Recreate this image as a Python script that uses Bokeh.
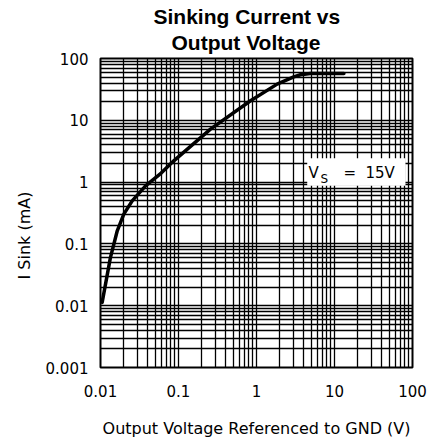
import numpy as np
from bokeh.plotting import figure
from bokeh.models import FixedTicker, Title, Label, BoxAnnotation
from bokeh.embed import file_html
from bokeh.resources import INLINE

# ---- data ----
v_out = [0.0105, 0.0134, 0.0164, 0.0199, 0.0255, 0.0378, 0.06, 0.087,
         0.257, 0.838, 1.84, 3.0, 3.66, 4.9, 13.2]
i_sink = [0.0113, 0.06, 0.163, 0.303, 0.498, 0.87, 1.4, 2.21,
          7.2, 20.7, 38.5, 50.5, 54.5, 57.0, 57.0]

x_ticks = [0.01, 0.1, 1, 10, 100]
x_tick_labels = ["0.01", "0.1", "1", "10", "100"]
y_ticks = [0.001, 0.01, 0.1, 1, 10, 100]
y_tick_labels = ["0.001", "0.01", "0.1", "1", "10", "100"]

title_lines = ["Sinking Current vs", "Output Voltage"]
x_label = "Output Voltage Referenced to GND (V)"
y_label = "I Sink (mA)"

x_minor = [m * t for t in x_ticks[:-1] for m in range(2, 10)]
y_minor = [m * t for t in y_ticks[:-1] for m in range(2, 10)]

p = figure(width=428, height=442, x_axis_type="log", y_axis_type="log",
           x_range=(0.01, 100), y_range=(0.001, 100),
           output_backend="svg", toolbar_location=None, title=None,
           min_border_left=100, min_border_right=16,
           min_border_top=58, min_border_bottom=75)
p.background_fill_color = "white"
p.border_fill_color = "white"
p.outline_line_color = "black"
p.outline_line_width = 2

p.xaxis.ticker = FixedTicker(ticks=x_ticks, minor_ticks=x_minor)
p.yaxis.ticker = FixedTicker(ticks=y_ticks, minor_ticks=y_minor)
p.xaxis.major_label_overrides = {t: l for t, l in zip(x_ticks, x_tick_labels)}
p.yaxis.major_label_overrides = {t: l for t, l in zip(y_ticks, y_tick_labels)}

for g in (p.xgrid, p.ygrid):
    g.grid_line_color = "black"
    g.grid_line_width = 1.3
    g.grid_line_alpha = 1
    g.minor_grid_line_color = "black"
    g.minor_grid_line_width = 1.3
    g.minor_grid_line_alpha = 1

p.axis.axis_line_color = None
p.axis.major_tick_line_color = None
p.axis.minor_tick_line_color = None
p.axis.major_tick_out = 0
p.axis.major_tick_in = 0
p.axis.major_label_text_font = "DejaVu Sans"
p.axis.major_label_text_font_size = "15px"
p.axis.major_label_text_color = "black"
p.yaxis.major_label_standoff = 8
p.xaxis.major_label_standoff = 13

p.xaxis.axis_label = x_label
p.xaxis.axis_label_text_font = "DejaVu Sans"
p.xaxis.axis_label_text_font_size = "16px"
p.xaxis.axis_label_text_font_style = "normal"
p.xaxis.axis_label_text_color = "black"
p.xaxis.axis_label_standoff = 19

p.add_layout(Title(text=y_label, align="left", offset=88, standoff=14,
                   vertical_align="top",
                   text_font="DejaVu Sans", text_font_size="16px",
                   text_font_style="normal", text_color="black"), "left")

p.add_layout(Title(text=title_lines[1], align="left", offset=71, standoff=6,
                   vertical_align="top",
                   text_font="Liberation Sans", text_font_size="21px",
                   text_font_style="bold", text_color="black"), "above")
p.add_layout(Title(text=title_lines[0], align="left", offset=53, standoff=0,
                   text_font="Liberation Sans", text_font_size="21px",
                   text_font_style="bold", text_color="black"), "above")

p.line(v_out, i_sink, line_width=3.5, line_color="black",
       line_join="round", line_cap="round")

p.add_layout(BoxAnnotation(left=4.47, right=81.3, bottom=0.871, top=2.44,
                           fill_color="white", fill_alpha=1, line_color=None))
lbl_font = "DejaVu Sans"
p.add_layout(Label(x=4.64, y=1.43, text="V", text_font=lbl_font,
                   text_font_size="15px", text_baseline="alphabetic", text_color="black"))
p.add_layout(Label(x=6.62, y=1.13, text="S", text_font=lbl_font,
                   text_font_size="12px", text_baseline="alphabetic", text_color="black"))
p.add_layout(Label(x=13.0, y=1.43, text="=", text_font=lbl_font,
                   text_font_size="15px", text_baseline="alphabetic", text_color="black"))
p.add_layout(Label(x=24.9, y=1.43, text="15V", text_font=lbl_font,
                   text_font_size="15px", text_baseline="alphabetic", text_color="black"))

open("out.html", "w").write(file_html(p, INLINE))
